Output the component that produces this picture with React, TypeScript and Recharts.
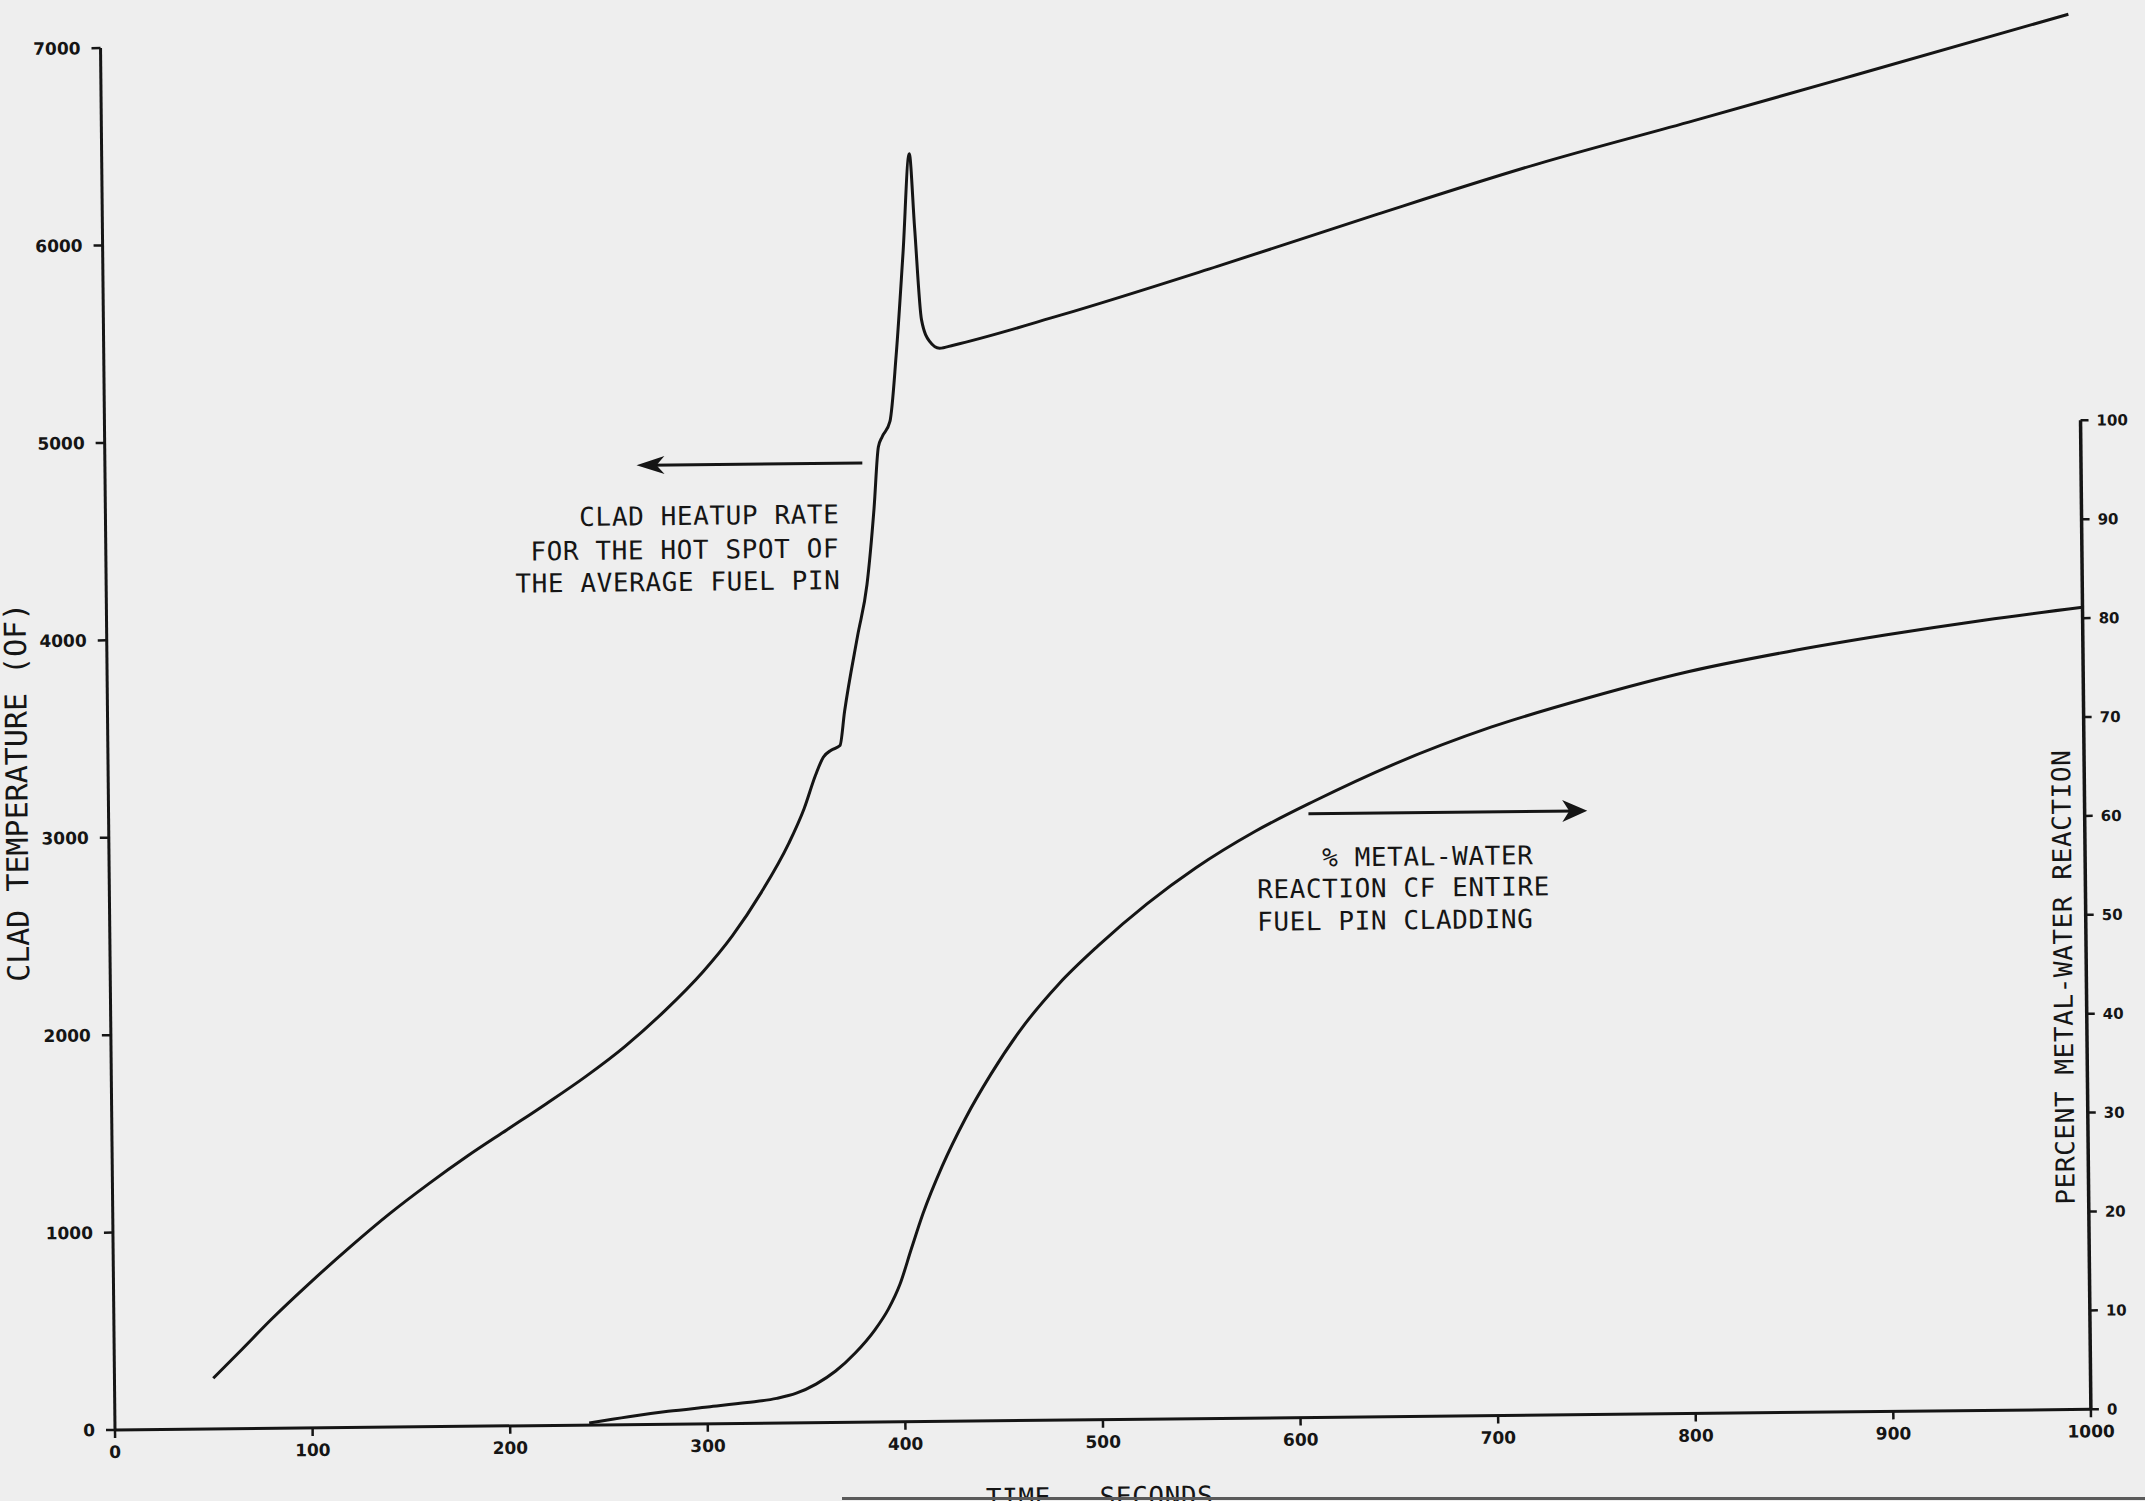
import React from 'react';
import { LineChart, Line, XAxis, YAxis, ReferenceLine, ReferenceDot } from 'recharts';

// ---- data ----
const tempTime = [50, 65, 80, 100, 120, 140, 160, 180, 200, 220, 240, 260, 280, 300, 315, 330, 344, 352, 358, 362, 366, 370.5, 373, 380, 385, 389, 391.5, 393.5, 397.5, 401, 405, 408.7, 411, 414, 418, 423, 430, 484, 564, 645, 726, 806, 887, 996];
const tempValue = [257, 405, 555, 740, 915, 1080, 1230, 1370, 1500, 1630, 1765, 1915, 2090, 2290, 2470, 2690, 2934, 3110, 3280, 3370, 3405, 3428, 3600, 3983, 4241, 4628, 4938, 4990, 5067, 5402, 5918, 6422, 6047, 5581, 5470, 5435, 5450, 5595, 5835, 6090, 6335, 6548, 6768, 7067];

const mwTime = [240, 260, 280, 300, 320, 335, 345, 355, 365, 375, 385, 392, 398, 404, 410, 420, 432, 445, 460, 480, 500, 525, 550, 580, 610, 650, 700, 750, 800, 850, 900, 950, 1000];
const mwValue = [0.2, 0.8, 1.3, 1.7, 2.1, 2.5, 3.0, 3.9, 5.2, 7.0, 9.3, 11.4, 13.9, 17.5, 21.0, 25.8, 30.6, 35.0, 39.4, 44.1, 47.9, 52.1, 55.7, 59.3, 62.3, 65.9, 69.6, 72.5, 75.0, 76.9, 78.5, 79.9, 81.1];

const xTicks = [0, 100, 200, 300, 400, 500, 600, 700, 800, 900, 1000];
const leftTicks = [0, 1000, 2000, 3000, 4000, 5000, 6000, 7000];
const rightTicks = [0, 10, 20, 30, 40, 50, 60, 70, 80, 90, 100];

const leftNote = ['CLAD HEATUP RATE', 'FOR THE HOT SPOT OF', 'THE AVERAGE FUEL PIN'];
const rightNote = ['% METAL-WATER', 'REACTION CF ENTIRE', 'FUEL PIN CLADDING'];

const tempData = tempTime.map((t, i) => ({ t, temp: tempValue[i] }));
const mwData = mwTime.map((t, i) => ({ t, mw: mwValue[i] }));

const INK = '#151515';
const MONO = '"DejaVu Sans Mono", monospace';
const HAND = '"DejaVu Sans", sans-serif';

const noteText = (label: string, anchor: 'start' | 'end') => (p: any) => (
  <text x={p.cx} y={p.cy} textAnchor={anchor} fontFamily={MONO} fontSize={26} letterSpacing={0.6} fill={INK}>
    {label}
  </text>
);

const arrowLeft = (p: any) => (
  <polygon points={`${p.cx},${p.cy} ${p.cx + 28},${p.cy - 9} ${p.cx + 20},${p.cy} ${p.cx + 28},${p.cy + 9}`} fill={INK} />
);
const arrowRight = (p: any) => (
  <polygon points={`${p.cx},${p.cy} ${p.cx - 25},${p.cy - 11} ${p.cx - 18},${p.cy} ${p.cx - 25},${p.cy + 11}`} fill={INK} />
);

const LeftTitle = (props: any) => {
  const vb = props.viewBox || { x: 0, y: 8.5, width: 115, height: 1421.5 };
  const x = vb.x + 34;
  const y = vb.y + vb.height - 449;
  return (
    <text x={x} y={y} transform={`rotate(-90 ${x} ${y})`} fontFamily={MONO} fontSize={30} fill={INK}>
      CLAD TEMPERATURE (OF)
    </text>
  );
};

const RightTitle = (props: any) => {
  const vb = props.viewBox || { x: 2091, y: 8.5, width: 54, height: 1421.5 };
  const x = vb.x - 14;
  const y = vb.y + vb.height - 205;
  return (
    <text x={x} y={y} transform={`rotate(-90 ${x} ${y})`} fontFamily={MONO} fontSize={26} letterSpacing={0.6} fill={INK}>
      PERCENT METAL-WATER REACTION
    </text>
  );
};

const BottomTitle = (props: any) => {
  const vb = props.viewBox || { x: 115, y: 1430, width: 1976, height: 100 };
  return (
    <text x={vb.x + 984} y={vb.y + 86} textAnchor="middle" fontFamily={MONO} fontSize={26} letterSpacing={0.6} fill={INK}>
      TIME - SECONDS
    </text>
  );
};

const tickStyle = { fill: INK, fontSize: 17, fontWeight: 700, fontFamily: HAND };

export default function App() {
  return (
    <div style={{ position: 'fixed', left: 0, top: 0, width: 2145, height: 1501, overflow: 'hidden', background: '#eeeeee' }}>
      <div style={{ transform: 'rotate(-0.6deg)', transformOrigin: '115px 1430px', width: 2145, height: 1530 }}>
        <LineChart width={2145} height={1530} margin={{ top: 8.5, right: 0, bottom: 0, left: 0 }}>
          <XAxis
            dataKey="t"
            type="number"
            domain={[0, 1000]}
            ticks={xTicks}
            height={100}
            axisLine={{ stroke: INK, strokeWidth: 3 }}
            tickLine={{ stroke: INK, strokeWidth: 2.5 }}
            tickSize={8}
            tickMargin={8}
            tick={tickStyle}
            label={<BottomTitle />}
          />
          <YAxis
            yAxisId="left"
            type="number"
            domain={[0, 7200]}
            ticks={leftTicks}
            width={115}
            axisLine={false}
            tickLine={{ stroke: INK, strokeWidth: 2.5 }}
            tickSize={9}
            tickMargin={11}
            tick={tickStyle}
            label={<LeftTitle />}
          />
          <YAxis
            yAxisId="right"
            orientation="right"
            type="number"
            domain={[0, 143.73]}
            ticks={rightTicks}
            width={54}
            axisLine={false}
            tickLine={{ stroke: INK, strokeWidth: 2.5 }}
            tickSize={8}
            tickMargin={8}
            tick={{ ...tickStyle, fontSize: 15 }}
            label={<RightTitle />}
          />
          <ReferenceLine yAxisId="left" segment={[{ x: 0, y: 0 }, { x: 0, y: 7000 }]} stroke={INK} strokeWidth={3} />
          <ReferenceLine yAxisId="right" segment={[{ x: 1000, y: 0 }, { x: 1000, y: 100 }]} stroke={INK} strokeWidth={3.5} />

          <Line yAxisId="left" data={tempData} dataKey="temp" type="monotone" stroke={INK} strokeWidth={3} dot={false} isAnimationActive={false} />
          <Line yAxisId="right" data={mwData} dataKey="mw" type="monotone" stroke={INK} strokeWidth={3} dot={false} isAnimationActive={false} />

          <ReferenceLine yAxisId="left" segment={[{ x: 275, y: 4858 }, { x: 383.3, y: 4858 }]} stroke={INK} strokeWidth={3} />
          <ReferenceDot yAxisId="left" x={269} y={4858} r={0} shape={arrowLeft} />
          <ReferenceLine yAxisId="left" segment={[{ x: 607.2, y: 3058 }, { x: 743, y: 3058 }]} stroke={INK} strokeWidth={3} />
          <ReferenceDot yAxisId="left" x={748.3} y={3058} r={0} shape={arrowRight} />

          <ReferenceDot yAxisId="left" x={371.4} y={4554} r={0} shape={noteText(leftNote[0], 'end')} />
          <ReferenceDot yAxisId="left" x={371.2} y={4382} r={0} shape={noteText(leftNote[1], 'end')} />
          <ReferenceDot yAxisId="left" x={371.6} y={4220} r={0} shape={noteText(leftNote[2], 'end')} />

          <ReferenceDot yAxisId="left" x={613.9} y={2790} r={0} shape={noteText(rightNote[0], 'start')} />
          <ReferenceDot yAxisId="left" x={580.9} y={2632} r={0} shape={noteText(rightNote[1], 'start')} />
          <ReferenceDot yAxisId="left" x={580.7} y={2468} r={0} shape={noteText(rightNote[2], 'start')} />
        </LineChart>
      </div>
      <div style={{ position: 'absolute', left: 842, top: 1497, width: 1303, height: 3, background: '#5a5a5a' }} />
    </div>
  );
}
